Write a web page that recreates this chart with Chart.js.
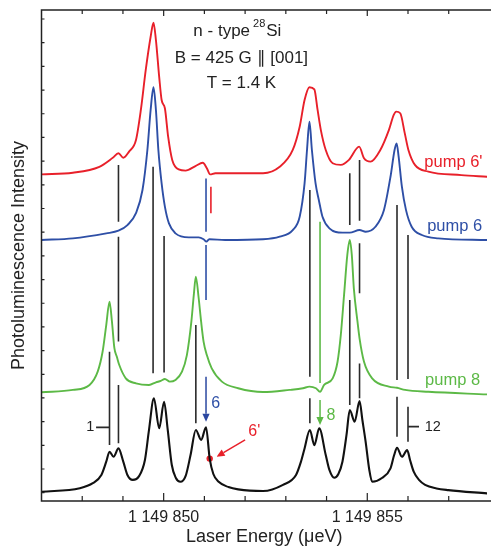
<!DOCTYPE html>
<html><head><meta charset="utf-8">
<script src="https://cdn.jsdelivr.net/npm/chart.js@4.4.0/dist/chart.umd.min.js"></script>
<style>html,body{margin:0;padding:0;overflow:hidden;background:#fff}canvas{display:block}</style>
</head><body>
<canvas id="c" width="491" height="548"></canvas>
<script>
// ---------- data ----------
const energyTicks = [1149848, 1149849, 1149850, 1149851, 1149852, 1149853, 1149854, 1149855, 1149856, 1149857];
const labeledEnergies = [1149850, 1149855];
const intensityTicks = [0,1,2,3,4,5,6,7,8,9,10,11,12,13,14,15,16,17,18,19,20];

// black: PL reference spectrum
const blackEnergy = [1149847.00,1149847.94,1149848.26,1149848.47,1149848.59,1149848.67,1149848.77,1149848.89,1149849.01,1149849.11,1149849.24,1149849.40,1149849.54,1149849.64,1149849.76,1149849.89,1149850.01,1149850.10,1149850.20,1149850.30,1149850.41,1149850.54,1149850.66,1149850.79,1149850.92,1149851.04,1149851.13,1149851.22,1149851.35,1149851.59,1149851.83,1149852.44,1149852.93,1149853.25,1149853.37,1149853.46,1149853.59,1149853.70,1149853.82,1149853.98,1149854.07,1149854.19,1149854.29,1149854.39,1149854.49,1149854.57,1149854.69,1149854.81,1149854.88,1149854.96,1149855.05,1149855.12,1149855.36,1149855.57,1149855.66,1149855.73,1149855.85,1149855.98,1149856.05,1149856.14,1149856.27,1149856.42,1149856.70,1149856.99,1149857.94];
const blackIntensity = [0.04,0.19,0.40,0.75,1.31,1.73,1.52,1.87,1.30,0.75,0.54,0.71,1.38,2.65,3.99,2.72,3.84,2.65,1.17,0.62,0.46,0.71,1.59,2.65,2.23,2.76,1.44,0.79,0.46,0.24,0.14,0.07,0.33,0.75,1.30,1.87,2.65,2.01,2.72,1.59,0.96,0.63,0.79,1.31,2.44,3.49,3.00,3.87,3.07,2.15,0.96,0.46,0.62,1.03,1.59,1.90,1.52,1.80,1.38,0.89,0.54,0.33,0.18,0.11,-0.03];

// green: pump 8
const greenEnergy = [1149847.00,1149847.77,1149848.18,1149848.38,1149848.50,1149848.59,1149848.67,1149848.73,1149848.79,1149848.85,1149848.91,1149849.07,1149849.32,1149849.64,1149849.81,1149849.93,1149850.03,1149850.15,1149850.29,1149850.45,1149850.57,1149850.68,1149850.74,1149850.79,1149850.86,1149850.92,1149850.98,1149851.06,1149851.18,1149851.43,1149851.83,1149852.44,1149853.09,1149853.42,1149853.58,1149853.74,1149853.84,1149853.94,1149854.15,1149854.27,1149854.35,1149854.43,1149854.51,1149854.57,1149854.62,1149854.67,1149854.76,1149854.81,1149854.92,1149855.12,1149855.53,1149855.73,1149855.93,1149856.50,1149857.94];
const greenIntensity = [4.24,4.34,4.55,5.11,5.95,7.08,8.06,7.22,6.10,5.74,5.39,4.83,4.62,4.55,4.66,4.72,4.80,4.69,4.76,5.11,5.81,7.22,8.35,9.12,8.21,7.22,6.38,5.81,5.25,4.69,4.41,4.25,4.34,4.41,4.48,4.41,4.26,4.55,4.83,5.53,6.66,8.35,10.04,10.67,10.04,8.63,7.22,6.52,5.53,4.83,4.48,4.43,4.34,4.26,4.15];

// blue: pump 6
const blueEnergy = [1149847.00,1149847.77,1149848.59,1149848.89,1149849.11,1149849.32,1149849.48,1149849.60,1149849.68,1149849.75,1149849.81,1149849.87,1149849.95,1149850.03,1149850.13,1149850.29,1149850.62,1149850.86,1149850.98,1149851.05,1149851.12,1149851.51,1149852.44,1149852.85,1149853.17,1149853.34,1149853.46,1149853.52,1149853.58,1149853.64,1149853.73,1149853.81,1149853.90,1149854.07,1149854.39,1149854.57,1149854.81,1149854.96,1149855.20,1149855.41,1149855.57,1149855.67,1149855.72,1149855.77,1149855.85,1149855.95,1149856.09,1149856.34,1149856.74,1149857.94];
const blueIntensity = [10.67,10.74,10.95,11.06,11.30,11.80,12.78,14.47,16.16,17.12,16.16,14.47,13.06,12.08,11.37,10.95,10.78,10.78,10.70,10.60,10.70,10.67,10.70,10.81,11.09,11.65,13.06,14.47,15.66,14.47,13.06,12.36,11.65,11.16,10.98,10.98,11.09,11.02,11.23,11.94,13.34,14.47,14.75,14.19,12.92,11.94,11.23,10.88,10.74,10.67];

// red: pump 6'
const redEnergy = [1149847.00,1149847.77,1149848.42,1149848.75,1149848.89,1149849.01,1149849.15,1149849.32,1149849.44,1149849.56,1149849.68,1149849.75,1149849.81,1149849.89,1149849.95,1149850.03,1149850.11,1149850.21,1149850.37,1149850.54,1149850.78,1149850.96,1149851.06,1149851.14,1149851.27,1149852.44,1149852.85,1149853.17,1149853.34,1149853.46,1149853.58,1149853.70,1149853.78,1149853.86,1149853.98,1149854.15,1149854.35,1149854.55,1149854.80,1149854.92,1149855.08,1149855.32,1149855.53,1149855.65,1149855.71,1149855.81,1149855.92,1149856.01,1149856.17,1149856.50,1149857.31,1149857.94];
const redIntensity = [13.44,13.51,13.76,14.14,14.33,14.14,14.40,14.89,16.16,17.85,19.25,19.84,19.11,17.56,16.58,16.23,15.03,14.05,13.65,13.60,13.79,13.93,13.70,13.44,13.49,13.49,13.76,14.47,15.45,16.58,17.12,17.03,16.16,15.31,14.47,13.91,13.84,14.05,14.61,14.12,13.98,14.47,15.31,15.95,16.09,16.02,15.18,14.47,13.84,13.56,13.41,13.34];

// vertical transition markers
const blackMarkEnergy = [1149848.89,1149848.89,1149848.67,1149848.89,1149849.74,1149850.01,1149850.79,1149853.59,1149853.59,1149854.57,1149854.57,1149854.81,1149854.81,1149854.81,1149855.73,1149855.73,1149856.00,1149856.00];
const blackMarkTop    = [13.84,10.81,5.95,4.55,13.76,10.84,7.08,12.78,3.99,13.49,8.14,14.05,10.53,5.46,12.15,4.05,10.88,3.63];
const blackMarkBottom = [11.44,6.38,2.01,2.09,5.04,5.08,2.93,4.90,2.93,11.30,3.70,11.48,8.42,3.99,4.76,2.36,4.80,2.15];
const blueMarkEnergy = [1149851.04,1149851.04];
const blueMarkTop    = [13.27,10.46];
const blueMarkBottom = [11.02,8.14];
const redMarkEnergy = [1149851.16];
const redMarkTop    = [12.92];
const redMarkBottom = [11.80];
const greenMarkEnergy = [1149853.84];
const greenMarkTop    = [11.44];
const greenMarkBottom = [4.63];

// leader dashes for labels "1" and "12"
const leaderStartE = [1149848.34, 1149856.00];
const leaderEndE   = [1149848.67, 1149856.27];
const leaderI      = [2.76, 2.79];

// arrows (from -> to)
const arrowFromE = [1149851.04, 1149853.84, 1149852.00];
const arrowFromI = [4.90, 3.91, 2.23];
const arrowToE   = [1149851.04, 1149853.84, 1149851.30];
const arrowToI   = [3.00, 2.86, 1.52];
const arrowColors = ['#2b47a0', '#5cb946', '#e8202a'];

// red marked point
const dotEnergy = [1149851.13];
const dotIntensity = [1.44];

// text annotations
const noteText  = ["pump 6'", 'pump 6', 'pump 8', '1', '12', '6', '8', "6'"];
const noteE     = [1149856.40, 1149856.47, 1149856.42, 1149848.30, 1149856.41, 1149851.17, 1149854.00, 1149852.08];
const noteI     = [13.96, 11.26, 4.76, 2.76, 2.79, 3.77, 3.25, 2.58];
const noteColor = ['#e8202a', '#2e4fa6', '#5cb946', '#222', '#222', '#2e4fa6', '#5cb946', '#e8202a'];
const noteSize  = [16.5, 16.5, 16.5, 14.5, 14.5, 16, 16, 16];
const noteAlign = ['left','left','left','right','left','left','left','left'];

const titleLines = ['n - type', 'B = 425 G \u2225 [001]', 'T = 1.4 K'];
const titleE = [1149851.81, 1149851.91, 1149851.91];
const titleI = [19.49, 18.35, 17.30];

// ---------- helpers ----------
const FONT = "'Liberation Sans', Arial, Helvetica, sans-serif";
function pts(E, I) { return E.map((e, i) => ({x: e, y: I[i]})); }
function segs(E, top, bot) {
  const out = [];
  E.forEach((e, i) => { out.push({x: e, y: top[i]}, {x: e, y: bot[i]}, {x: e, y: null}); });
  return out;
}
function hsegs(E0, E1, I) {
  const out = [];
  E0.forEach((e, i) => { out.push({x: e, y: I[i]}, {x: E1[i], y: I[i]}, {x: E1[i], y: null}); });
  return out;
}
function fmtE(v) { return String(Math.round(v)).replace(/\B(?=(\d{3})+(?!\d))/g, ' '); }

const curve = (label, data, color, w) => ({
  label, data, borderColor: color, borderWidth: w, pointRadius: 0,
  cubicInterpolationMode: 'monotone', fill: false, borderJoinStyle: 'round', borderCapStyle: 'round'
});
const mark = (label, data, color) => ({
  label, data, borderColor: color, borderWidth: 1.6, pointRadius: 0, tension: 0, spanGaps: false, fill: false
});

const decor = {
  id: 'decor',
  afterDatasetsDraw(chart) {
    const {ctx, chartArea: a, scales: {x, y}} = chart;
    ctx.save();
    // frame
    ctx.strokeStyle = '#222'; ctx.lineWidth = 1.5;
    ctx.beginPath();
    ctx.moveTo(a.right + 5, a.top); ctx.lineTo(a.left, a.top);
    ctx.lineTo(a.left, a.bottom); ctx.lineTo(a.right + 5, a.bottom);
    ctx.stroke();
    // ticks
    ctx.lineWidth = 1.2;
    ctx.beginPath();
    energyTicks.forEach(v => {
      const px = x.getPixelForValue(v);
      const major = labeledEnergies.includes(v);
      ctx.moveTo(px, a.bottom); ctx.lineTo(px, a.bottom - (major ? 8 : 5));
      ctx.moveTo(px, a.top); ctx.lineTo(px, a.top + (major ? 6 : 4));
    });
    intensityTicks.forEach(v => {
      const py = y.getPixelForValue(v);
      ctx.moveTo(a.left, py); ctx.lineTo(a.left + 3, py);
    });
    ctx.stroke();
    // arrows
    arrowFromE.forEach((e, i) => {
      const x0 = x.getPixelForValue(e), y0 = y.getPixelForValue(arrowFromI[i]);
      const x1 = x.getPixelForValue(arrowToE[i]), y1 = y.getPixelForValue(arrowToI[i]);
      const ang = Math.atan2(y1 - y0, x1 - x0);
      const L = 8, W = 3.6;
      const bx = x1 - L * Math.cos(ang), by = y1 - L * Math.sin(ang);
      ctx.strokeStyle = arrowColors[i]; ctx.fillStyle = arrowColors[i]; ctx.lineWidth = 1.5;
      ctx.beginPath(); ctx.moveTo(x0, y0); ctx.lineTo(bx, by); ctx.stroke();
      ctx.beginPath();
      ctx.moveTo(x1, y1);
      ctx.lineTo(bx + W * Math.sin(ang), by - W * Math.cos(ang));
      ctx.lineTo(bx - W * Math.sin(ang), by + W * Math.cos(ang));
      ctx.closePath(); ctx.fill();
    });
    // notes
    ctx.textBaseline = 'middle';
    noteText.forEach((t, i) => {
      ctx.font = noteSize[i] + 'px ' + FONT;
      ctx.fillStyle = noteColor[i];
      ctx.textAlign = noteAlign[i];
      ctx.fillText(t, x.getPixelForValue(noteE[i]), y.getPixelForValue(noteI[i]));
    });
    // title block
    ctx.fillStyle = '#222';
    const big = '17px ' + FONT, small = '11px ' + FONT;
    ctx.font = big; const w1 = ctx.measureText(titleLines[0]).width; const wSi = ctx.measureText('Si').width;
    ctx.font = small; const w28 = ctx.measureText('28').width;
    const tot = w1 + 3 + w28 + 1 + wSi;
    let cx = x.getPixelForValue(titleE[0]) - tot / 2;
    const cy = y.getPixelForValue(titleI[0]);
    ctx.textAlign = 'left';
    ctx.font = big; ctx.fillText(titleLines[0], cx, cy);
    cx += w1 + 3;
    ctx.font = small; ctx.fillText('28', cx, cy - 7.5);
    cx += w28 + 1;
    ctx.font = big; ctx.fillText('Si', cx, cy);
    ctx.textAlign = 'center';
    for (let i = 1; i < titleLines.length; i++) {
      ctx.fillText(titleLines[i], x.getPixelForValue(titleE[i]), y.getPixelForValue(titleI[i]));
    }
    ctx.restore();
  }
};

new Chart(document.getElementById('c'), {
  type: 'line',
  data: {
    datasets: [
      curve("pump 6'", pts(redEnergy, redIntensity), '#e8202a', 1.9),
      curve('pump 6', pts(blueEnergy, blueIntensity), '#2e4fa6', 1.9),
      curve('pump 8', pts(greenEnergy, greenIntensity), '#5cb946', 1.9),
      curve('PL', pts(blackEnergy, blackIntensity), '#111111', 2.1),
      mark('marks', segs(blackMarkEnergy, blackMarkTop, blackMarkBottom), '#2a2a2a'),
      mark('blue marks', segs(blueMarkEnergy, blueMarkTop, blueMarkBottom), '#2e4fa6'),
      mark('red marks', segs(redMarkEnergy, redMarkTop, redMarkBottom), '#e8202a'),
      mark('green marks', segs(greenMarkEnergy, greenMarkTop, greenMarkBottom), '#5cb946'),
      mark('leaders', hsegs(leaderStartE, leaderEndE, leaderI), '#2a2a2a'),
      {label: 'dot', data: pts(dotEnergy, dotIntensity), showLine: false, pointRadius: 3.2,
       pointBackgroundColor: '#e8202a', pointBorderColor: '#e8202a', borderWidth: 0}
    ]
  },
  options: {
    responsive: false, animation: false, devicePixelRatio: 1,
    layout: {padding: {top: 10, left: 0, right: 0, bottom: 0}},
    plugins: {legend: {display: false}, tooltip: {enabled: false}},
    scales: {
      x: {
        type: 'linear', min: 1149847, max: 1149857.94,
        afterFit(s) { s.height = 47; },
        afterBuildTicks(s) { s.ticks = labeledEnergies.map(v => ({value: v})); },
        grid: {display: false, drawTicks: false},
        border: {display: false},
        ticks: {callback: v => fmtE(v), font: {size: 16, family: FONT}, color: '#222', padding: 7, maxRotation: 0, autoSkip: false},
        title: {display: true, text: 'Laser Energy (\u03BCeV)', font: {size: 18, family: FONT}, color: '#222', padding: {top: 0, bottom: 0}}
      },
      y: {
        type: 'linear', min: -0.35, max: 20.38,
        afterFit(s) { s.width = 41.5; },
        afterBuildTicks(s) { s.ticks = intensityTicks.map(v => ({value: v})); },
        grid: {display: false, drawTicks: false},
        border: {display: false},
        ticks: {display: false},
        title: {display: true, text: 'Photoluminescence Intensity', font: {size: 18, family: FONT}, color: '#222', padding: {top: 8, bottom: 0}}
      }
    }
  },
  plugins: [decor]
});
</script>
</body></html>
